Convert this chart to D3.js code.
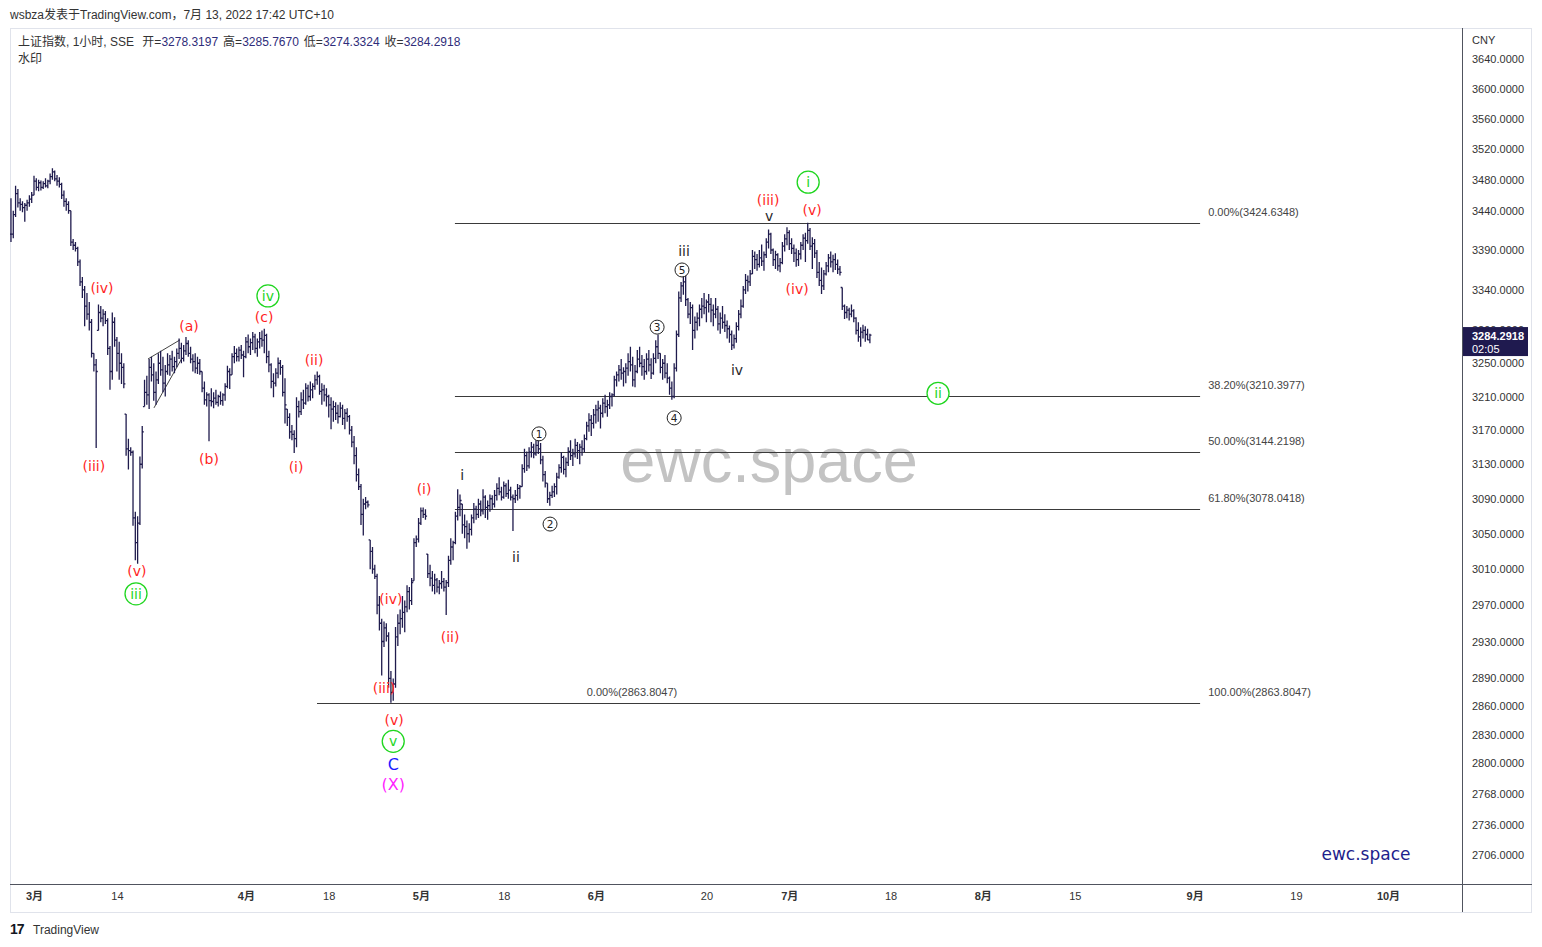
<!DOCTYPE html>
<html><head><meta charset="utf-8">
<script src="https://cdn.jsdelivr.net/npm/d3@7"></script>
<style>html,body{margin:0;padding:0;background:#fff;} svg{display:block;}</style>
</head><body><svg id="c" width="1542" height="947"></svg>
<script>
// ---------------- DATA ----------------
// hourly bars of 上证指数 (4 per trading day); bar 0 = first bar of 3月1日
const firstBar = -10;
const closes = [
 3410,3435,3462,3450,3448,3444,3447,3450,3455,3460,
 3478,3470,3476,3470,3475,3472,3478,3484,3490,3481,
 3478,3474,3460,3452,3448,3440,3400,3396,3392,3375,
 3350,3340,3320,3310,3300,3262,3248,3240,3312,3305,
 3310,3302,3268,3240,3300,3278,3262,3250,3245,3225,
 3148,3146,3144,3068,3040,3062,3130,3168,3215,3212,
 3245,3236,3215,3230,3250,3242,3226,3240,3248,3255,
 3246,3252,3262,3268,3256,3265,3274,3262,3255,3252,
 3244,3250,3240,3220,3206,3212,3205,3204,3208,3203,
 3210,3205,3212,3222,3240,3236,3258,3262,3258,3266,
 3260,3258,3276,3270,3275,3282,3268,3276,3280,3278,
 3284,3258,3248,3228,3226,3238,3250,3245,3215,3200,
 3185,3168,3165,3160,3198,3192,3206,3202,3220,3210,
 3218,3222,3230,3234,3216,3218,3212,3210,3200,3195,
 3198,3190,3186,3196,3184,3190,3186,3170,3156,3140,
 3118,3104,3072,3084,3086,3083,3030,3010,3002,2970,
 2950,2930,2945,2936,2890,2875,2884,2935,2950,2955,
 2962,2968,2985,2975,2995,3040,3044,3062,3076,3072,
 3070,3005,3000,2992,2998,2990,2994,2996,2990,2995,
 3020,3035,3040,3070,3080,3088,3060,3058,3050,3055,
 3068,3078,3072,3084,3076,3092,3080,3082,3090,3084,
 3094,3102,3098,3092,3105,3096,3100,3092,3090,3094,
 3102,3104,3125,3140,3128,3144,3150,3142,3152,3148,
 3135,3118,3108,3090,3094,3098,3104,3115,3126,3138,
 3124,3132,3145,3140,3142,3152,3146,3150,3148,3160,
 3175,3182,3178,3188,3194,3196,3190,3202,3198,3200,
 3210,3212,3230,3236,3242,3238,3240,3244,3252,3248,
 3230,3240,3255,3250,3246,3240,3255,3248,3238,3256,
 3270,3262,3245,3250,3238,3232,3220,3210,3244,3285,
 3330,3345,3350,3328,3310,3318,3290,3300,3305,3316,
 3320,3318,3325,3322,3315,3310,3316,3298,3305,3300,
 3296,3292,3285,3272,3280,3295,3310,3320,3340,3352,
 3350,3360,3382,3378,3372,3380,3376,3384,3400,3410,
 3390,3378,3384,3370,3374,3395,3404,3412,3398,3392,
 3386,3378,3385,3396,3405,3402,3415,3395,3398,3386,
 3362,3352,3345,3360,3370,3380,3375,3378,3372,3366,
 3362,3320,3312,3315,3310,3314,3305,3290,3282,3288,
 3290,3285,3278.32,3284.2918
];
const highs = [
 3456,3440,3472,3468,3456,3452,3450,3454,3460,3464,
 3485,3482,3480,3479,3478,3482,3480,3488,3495,3492,
 3486,3483,3476,3466,3456,3452,3440,3404,3400,3394,
 3378,3356,3345,3336,3325,3304,3262,3255,3322,3320,
 3316,3314,3305,3271,3312,3306,3282,3276,3262,3250,
 3189,3160,3150,3146,3075,3070,3139,3175,3230,3235,
 3255,3258,3250,3240,3262,3265,3258,3248,3262,3260,
 3265,3258,3268,3280,3275,3272,3282,3278,3270,3261,
 3262,3258,3255,3240,3228,3215,3214,3220,3215,3218,
 3212,3216,3214,3226,3247,3244,3262,3271,3268,3270,
 3272,3265,3282,3285,3280,3288,3286,3280,3288,3290,
 3292,3286,3265,3250,3238,3244,3257,3254,3248,3232,
 3195,3190,3176,3170,3209,3205,3215,3218,3226,3224,
 3228,3226,3236,3240,3236,3226,3224,3220,3212,3209,
 3205,3203,3200,3203,3200,3195,3196,3188,3175,3163,
 3150,3125,3107,3090,3092,3088,3043,3035,3015,3005,
 2980,2955,2952,2950,2940,2898,2890,2946,2960,2965,
 2980,2975,2992,2990,3000,3045,3048,3068,3080,3080,
 3078,3027,3015,3008,3005,3000,2998,3008,3000,2998,
 3025,3045,3042,3075,3101,3095,3084,3072,3065,3062,
 3072,3085,3082,3090,3088,3101,3094,3088,3095,3094,
 3100,3108,3115,3104,3110,3108,3112,3104,3095,3100,
 3107,3106,3130,3148,3145,3150,3156,3154,3158,3160,
 3155,3140,3122,3108,3098,3105,3108,3120,3130,3144,
 3140,3138,3150,3158,3148,3160,3156,3154,3158,3165,
 3180,3190,3188,3195,3200,3205,3200,3208,3212,3206,
 3215,3214,3235,3240,3248,3255,3245,3250,3262,3270,
 3258,3248,3266,3270,3260,3255,3262,3266,3256,3262,
 3278,3285,3262,3255,3260,3250,3234,3228,3250,3290,
 3338,3350,3367,3360,3330,3325,3322,3307,3312,3322,
 3330,3336,3328,3335,3330,3322,3330,3320,3312,3320,
 3310,3302,3296,3290,3285,3300,3315,3328,3345,3360,
 3358,3365,3390,3388,3385,3390,3397,3388,3405,3416,
 3412,3392,3389,3386,3380,3400,3410,3419,3415,3405,
 3397,3392,3390,3400,3410,3412,3424.6348,3418,3406,3404,
 3390,3375,3368,3365,3375,3385,3388,3384,3386,3378,
 3370,3343,3322,3320,3318,3322,3316,3306,3300,3294,
 3297,3295,3292,3285.767
];
const lows = [
 3400,3405,3432,3444,3440,3438,3426,3440,3445,3450,
 3460,3466,3465,3466,3468,3470,3469,3474,3480,3478,
 3472,3470,3455,3445,3440,3436,3395,3390,3388,3370,
 3345,3330,3295,3303,3290,3257,3240,3149,3290,3300,
 3295,3298,3260,3218,3230,3270,3240,3230,3225,3220,
 3140,3124,3140,3059,3020,3016,3060,3125,3198,3200,
 3195,3228,3205,3200,3225,3235,3215,3210,3236,3235,
 3240,3238,3245,3255,3250,3252,3260,3258,3250,3240,
 3238,3237,3236,3215,3200,3198,3157,3198,3196,3200,
 3198,3200,3199,3205,3220,3219,3236,3250,3252,3252,
 3255,3233,3256,3262,3260,3266,3262,3258,3268,3270,
 3262,3250,3239,3220,3209,3222,3232,3236,3210,3178,
 3175,3160,3158,3143,3150,3185,3188,3195,3200,3204,
 3205,3208,3218,3224,3212,3200,3204,3198,3185,3171,
 3180,3182,3178,3185,3176,3171,3180,3165,3150,3130,
 3110,3100,3060,3048,3078,3080,3010,3005,2999,2960,
 2942,2893,2924,2930,2880,2863.8047,2866,2880,2925,2938,
 2945,2940,2962,2965,2970,2997,3035,3040,3060,3068,
 3066,3000,2991,2985,2982,2984,2982,2988,2985,2959,
 2990,3015,3020,3038,3065,3070,3050,3045,3033,3040,
 3048,3062,3066,3068,3070,3072,3068,3066,3075,3078,
 3080,3088,3094,3088,3090,3092,3090,3088,3053,3085,
 3088,3090,3104,3120,3122,3125,3138,3137,3140,3142,
 3130,3110,3103,3085,3082,3091,3092,3095,3113,3120,
 3118,3115,3128,3135,3128,3138,3136,3130,3140,3144,
 3158,3168,3163,3172,3178,3180,3172,3185,3190,3186,
 3195,3198,3210,3222,3228,3230,3222,3226,3235,3240,
 3222,3221,3238,3245,3235,3230,3236,3240,3231,3236,
 3250,3255,3238,3230,3232,3226,3212,3206,3208,3240,
 3282,3325,3334,3320,3305,3298,3266,3280,3290,3295,
 3305,3310,3300,3312,3300,3295,3305,3290,3286,3292,
 3288,3280,3275,3266,3268,3275,3290,3305,3318,3335,
 3338,3345,3360,3366,3364,3368,3370,3364,3380,3392,
 3385,3370,3366,3364,3362,3372,3388,3396,3390,3385,
 3375,3369,3370,3378,3390,3375,3398,3390,3366,3380,
 3355,3345,3335,3340,3358,3362,3368,3362,3365,3360,
 3358,3315,3304,3305,3302,3306,3300,3285,3276,3270,
 3280,3276,3278,3274.3324
];
const lastOpen = 3278.3197;
const lastClose = 3284.2918;

const priceTicks = [3640,3600,3560,3520,3480,3440,3390,3340,3290,3250,3210,3170,3130,3090,3050,3010,2970,2930,2890,2860,2830,2800,2768,2736,2706];
const timeLabels = ["3月","14","4月","18","5月","18","6月","20","7月","18","8月","15","9月","19","10月"];
const timeBars   = [0,36,92,128,168,204,244,292,328,372,412,452,504,548,588];

// Fibonacci levels
const fibLabels = ["0.00%(3424.6348)","38.20%(3210.3977)","50.00%(3144.2198)","61.80%(3078.0418)","100.00%(2863.8047)"];
const fibPrices = [3424.6348,3210.3977,3144.2198,3078.0418,2863.8047];
const fibStartBars = [182.8,182.8,182.8,182.8,122.9];
const fibEndBar = 506.4;
const fibLabelBar = 509.9;
const fibLowLabel = "0.00%(2863.8047)";
const fibLowLabelBar = 259.7;

// Elliott wave labels: text, bar position, price position, style
const waveText  = ["(iv)","(iii)","(v)","iii","(a)","(b)","(c)","iv","(ii)","(i)","(i)","(iv)","(iii)","(v)","v","C","(X)","(ii)","i","ii","1","2","3","4","5","iii","iv","(iii)","v","(iv)","(v)","i","ii"];
const waveBar   = [29.5,26,44.7,44.3,67.3,76,99.9,101.6,121.6,113.8,169.4,155,152,156.4,156,156,156,180.7,185.9,209.3,219.3,224.1,270.6,278,281.4,282.3,305.3,318.8,319.2,331.4,337.9,336.2,392.6];
const wavePrice = [3342.5,3128,3008,2982.5,3295.5,3136.3,3306.5,3332.5,3254,3127,3101.4,2977,2880,2845.5,2823,2799,2778,2935,3117.6,3024,3165.6,3061,3294,3184.5,3364.9,3389,3242,3453,3433.5,3341.2,3441,3476.8,3213.8];
const waveStyle = ["red","red","red","green","red","red","red","green","red","red","red","red","red","red","green","blue","magenta","red","gray","gray","num","num","num","num","num","gray","gray","red","gray","red","red","green","green"];

// wedge (diagonal) drawing near (a)
const wedgeBars   = [[49.5,63.4],[52.1,64.3]];
const wedgePrices = [[3255.2,3278.4],[3196.4,3256.4]];

// ---------------- CHART ----------------
const svg = d3.select("#c");
const plot = {left:10, right:1462, top:28, bottom:884};
const x = d3.scaleLinear().domain([0,588]).range([34,1388]);
const y = d3.scaleLog().domain([2706,3640]).range([855,59]);
const FONT = "'Liberation Sans', Arial, 'Noto Sans CJK SC', sans-serif";

svg.append("defs").append("clipPath").attr("id","clip")
  .append("rect").attr("x",plot.left).attr("y",plot.top)
  .attr("width",plot.right-plot.left).attr("height",plot.bottom-plot.top);

// frame
svg.append("rect").attr("x",10.5).attr("y",28.5).attr("width",1521).attr("height",884)
  .attr("fill","none").attr("stroke","#e0e3eb");
svg.append("line").attr("x1",10).attr("x2",1532).attr("y1",884.5).attr("y2",884.5).attr("stroke","#50535e");
svg.append("line").attr("x1",1462.5).attr("x2",1462.5).attr("y1",28).attr("y2",912).attr("stroke","#50535e");

// header
svg.append("text").attr("x",10).attr("y",19).attr("font-family",FONT).attr("font-size",12).attr("fill","#333")
  .text("wsbza发表于TradingView.com，7月 13, 2022 17:42 UTC+10");
const leg = svg.append("text").attr("x",18).attr("y",46).attr("font-family",FONT).attr("font-size",12).attr("fill","#333")
  .attr("xml:space","preserve");
leg.append("tspan").text("上证指数, 1小时, SSE ");
[["开",lastOpen],["高",3285.767],["低",3274.3324],["收",lastClose]].forEach(([k,v])=>{
  leg.append("tspan").attr("fill","#333").attr("dx",5).text(k+"=");
  leg.append("tspan").attr("fill","#2f2d7a").text(v.toFixed(4));
});
svg.append("text").attr("x",18).attr("y",63).attr("font-family",FONT).attr("font-size",12).attr("fill","#333").text("水印");

const g = svg.append("g").attr("clip-path","url(#clip)");

// watermark
g.append("text").attr("x",769).attr("y",482).attr("text-anchor","middle")
  .attr("font-family","'Liberation Sans', Arial, sans-serif").attr("font-size",63).attr("fill","#c3c3c3")
  .text("ewc.space");

// fib lines
fibPrices.forEach((p,i)=>{
  g.append("line").attr("x1",x(fibStartBars[i])).attr("x2",x(fibEndBar))
    .attr("y1",Math.round(y(p))+0.5).attr("y2",Math.round(y(p))+0.5)
    .attr("stroke","#3a3a3a").attr("stroke-width",1);
  g.append("text").attr("x",x(fibLabelBar)).attr("y",y(p)-7).attr("font-family",FONT)
    .attr("font-size",11).attr("fill","#444").text(fibLabels[i]);
});
g.append("text").attr("x",x(fibLowLabelBar)).attr("y",y(fibPrices[4])-7).attr("text-anchor","middle")
  .attr("font-family",FONT).attr("font-size",11).attr("fill","#444").text(fibLowLabel);

// wedge lines
wedgeBars.forEach((b,i)=>{
  g.append("line").attr("x1",x(b[0])).attr("x2",x(b[1]))
    .attr("y1",y(wedgePrices[i][0])).attr("y2",y(wedgePrices[i][1]))
    .attr("stroke","#444").attr("stroke-width",1);
});

// OHLC bars
const bars = closes.map((c,i)=>{
  const h = highs[i], l = lows[i];
  let o = i===0 ? c : closes[i-1];
  o = Math.max(l, Math.min(h, o));
  return {b:firstBar+i, o, h, l, c};
});
bars[bars.length-1].o = lastOpen;
let pth = "";
bars.forEach(d=>{
  const cx = x(d.b);
  pth += `M${cx},${y(d.h)}V${y(d.l)}M${cx-1.6},${y(d.o)}H${cx}M${cx},${y(d.c)}H${cx+1.6}`;
});
g.append("path").attr("d",pth).attr("fill","none").attr("stroke","#1f1b4d").attr("stroke-width",1.3);

// wave labels
const colors = {red:"#ff1f1f", green:"#1fd61f", gray:"#2a2a2a", num:"#222", blue:"#1a1aff", magenta:"#ff1fff"};
waveText.forEach((t,i)=>{
  const cx = x(waveBar[i]), cy = y(wavePrice[i]), s = waveStyle[i];
  if (s==="green") {
    g.append("circle").attr("cx",cx).attr("cy",cy).attr("r",11).attr("fill","#fff")
      .attr("stroke",colors.green).attr("stroke-width",1.3);
  }
  if (s==="num") {
    g.append("circle").attr("cx",cx).attr("cy",cy).attr("r",7).attr("fill","#fff")
      .attr("stroke","#222").attr("stroke-width",1);
  }
  const fs = s==="num" ? 10.5 : (s==="blue"||s==="magenta") ? 16 : 14;
  g.append("text").attr("x",cx).attr("y",cy).attr("dy","0.35em").attr("text-anchor","middle")
    .attr("font-family","'DejaVu Sans', Verdana, sans-serif").attr("font-size",fs)
    .attr("fill",colors[s]).text(t);
});

// bottom right brand
svg.append("text").attr("x",1366).attr("y",860).attr("text-anchor","middle")
  .attr("font-family","'DejaVu Sans', Verdana, sans-serif").attr("font-size",17).attr("fill","#1e1e8c")
  .text("ewc.space");

// price axis
const ya = svg.append("g").attr("transform","translate(1468,0)")
  .call(d3.axisRight(y).tickValues(priceTicks).tickFormat(d=>d.toFixed(4)).tickSize(0).tickPadding(4));
ya.select(".domain").remove();
ya.selectAll("text").attr("font-family",FONT).attr("font-size",11).attr("fill","#333");
svg.append("text").attr("x",1472).attr("y",44).attr("font-family",FONT).attr("font-size",11).attr("fill","#333").text("CNY");

// current price box (covers the 3290 tick label, as in the original)
const py = y(lastClose);
svg.append("rect").attr("x",1463).attr("y",py-8).attr("width",65).attr("height",29).attr("fill","#1f1a4f");
svg.append("text").attr("x",1472).attr("y",py+5).attr("font-family",FONT).attr("font-size",11)
  .attr("font-weight","bold").attr("fill","#fff").text(lastClose.toFixed(4));
svg.append("text").attr("x",1472).attr("y",py+18).attr("font-family",FONT).attr("font-size",11)
  .attr("fill","#fff").text("02:05");

// time axis
const xa = svg.append("g").attr("transform","translate(0,884)")
  .call(d3.axisBottom(x).tickValues(timeBars).tickFormat((d,i)=>timeLabels[i]).tickSize(0).tickPadding(8));
xa.select(".domain").remove();
xa.selectAll("text").attr("font-family",FONT).attr("font-size",11).attr("fill","#333")
  .attr("font-weight",(d,i)=>timeLabels[i].includes("月")?"bold":"normal");

// TradingView logo
svg.append("text").attr("x",10).attr("y",934).attr("font-family","'Liberation Sans', Arial, sans-serif")
  .attr("font-size",14).attr("font-weight","bold").attr("letter-spacing",-1).attr("fill","#131722").text("17");
svg.append("text").attr("x",33).attr("y",934).attr("font-family",FONT).attr("font-size",12).attr("fill","#333").text("TradingView");
</script></body></html>
